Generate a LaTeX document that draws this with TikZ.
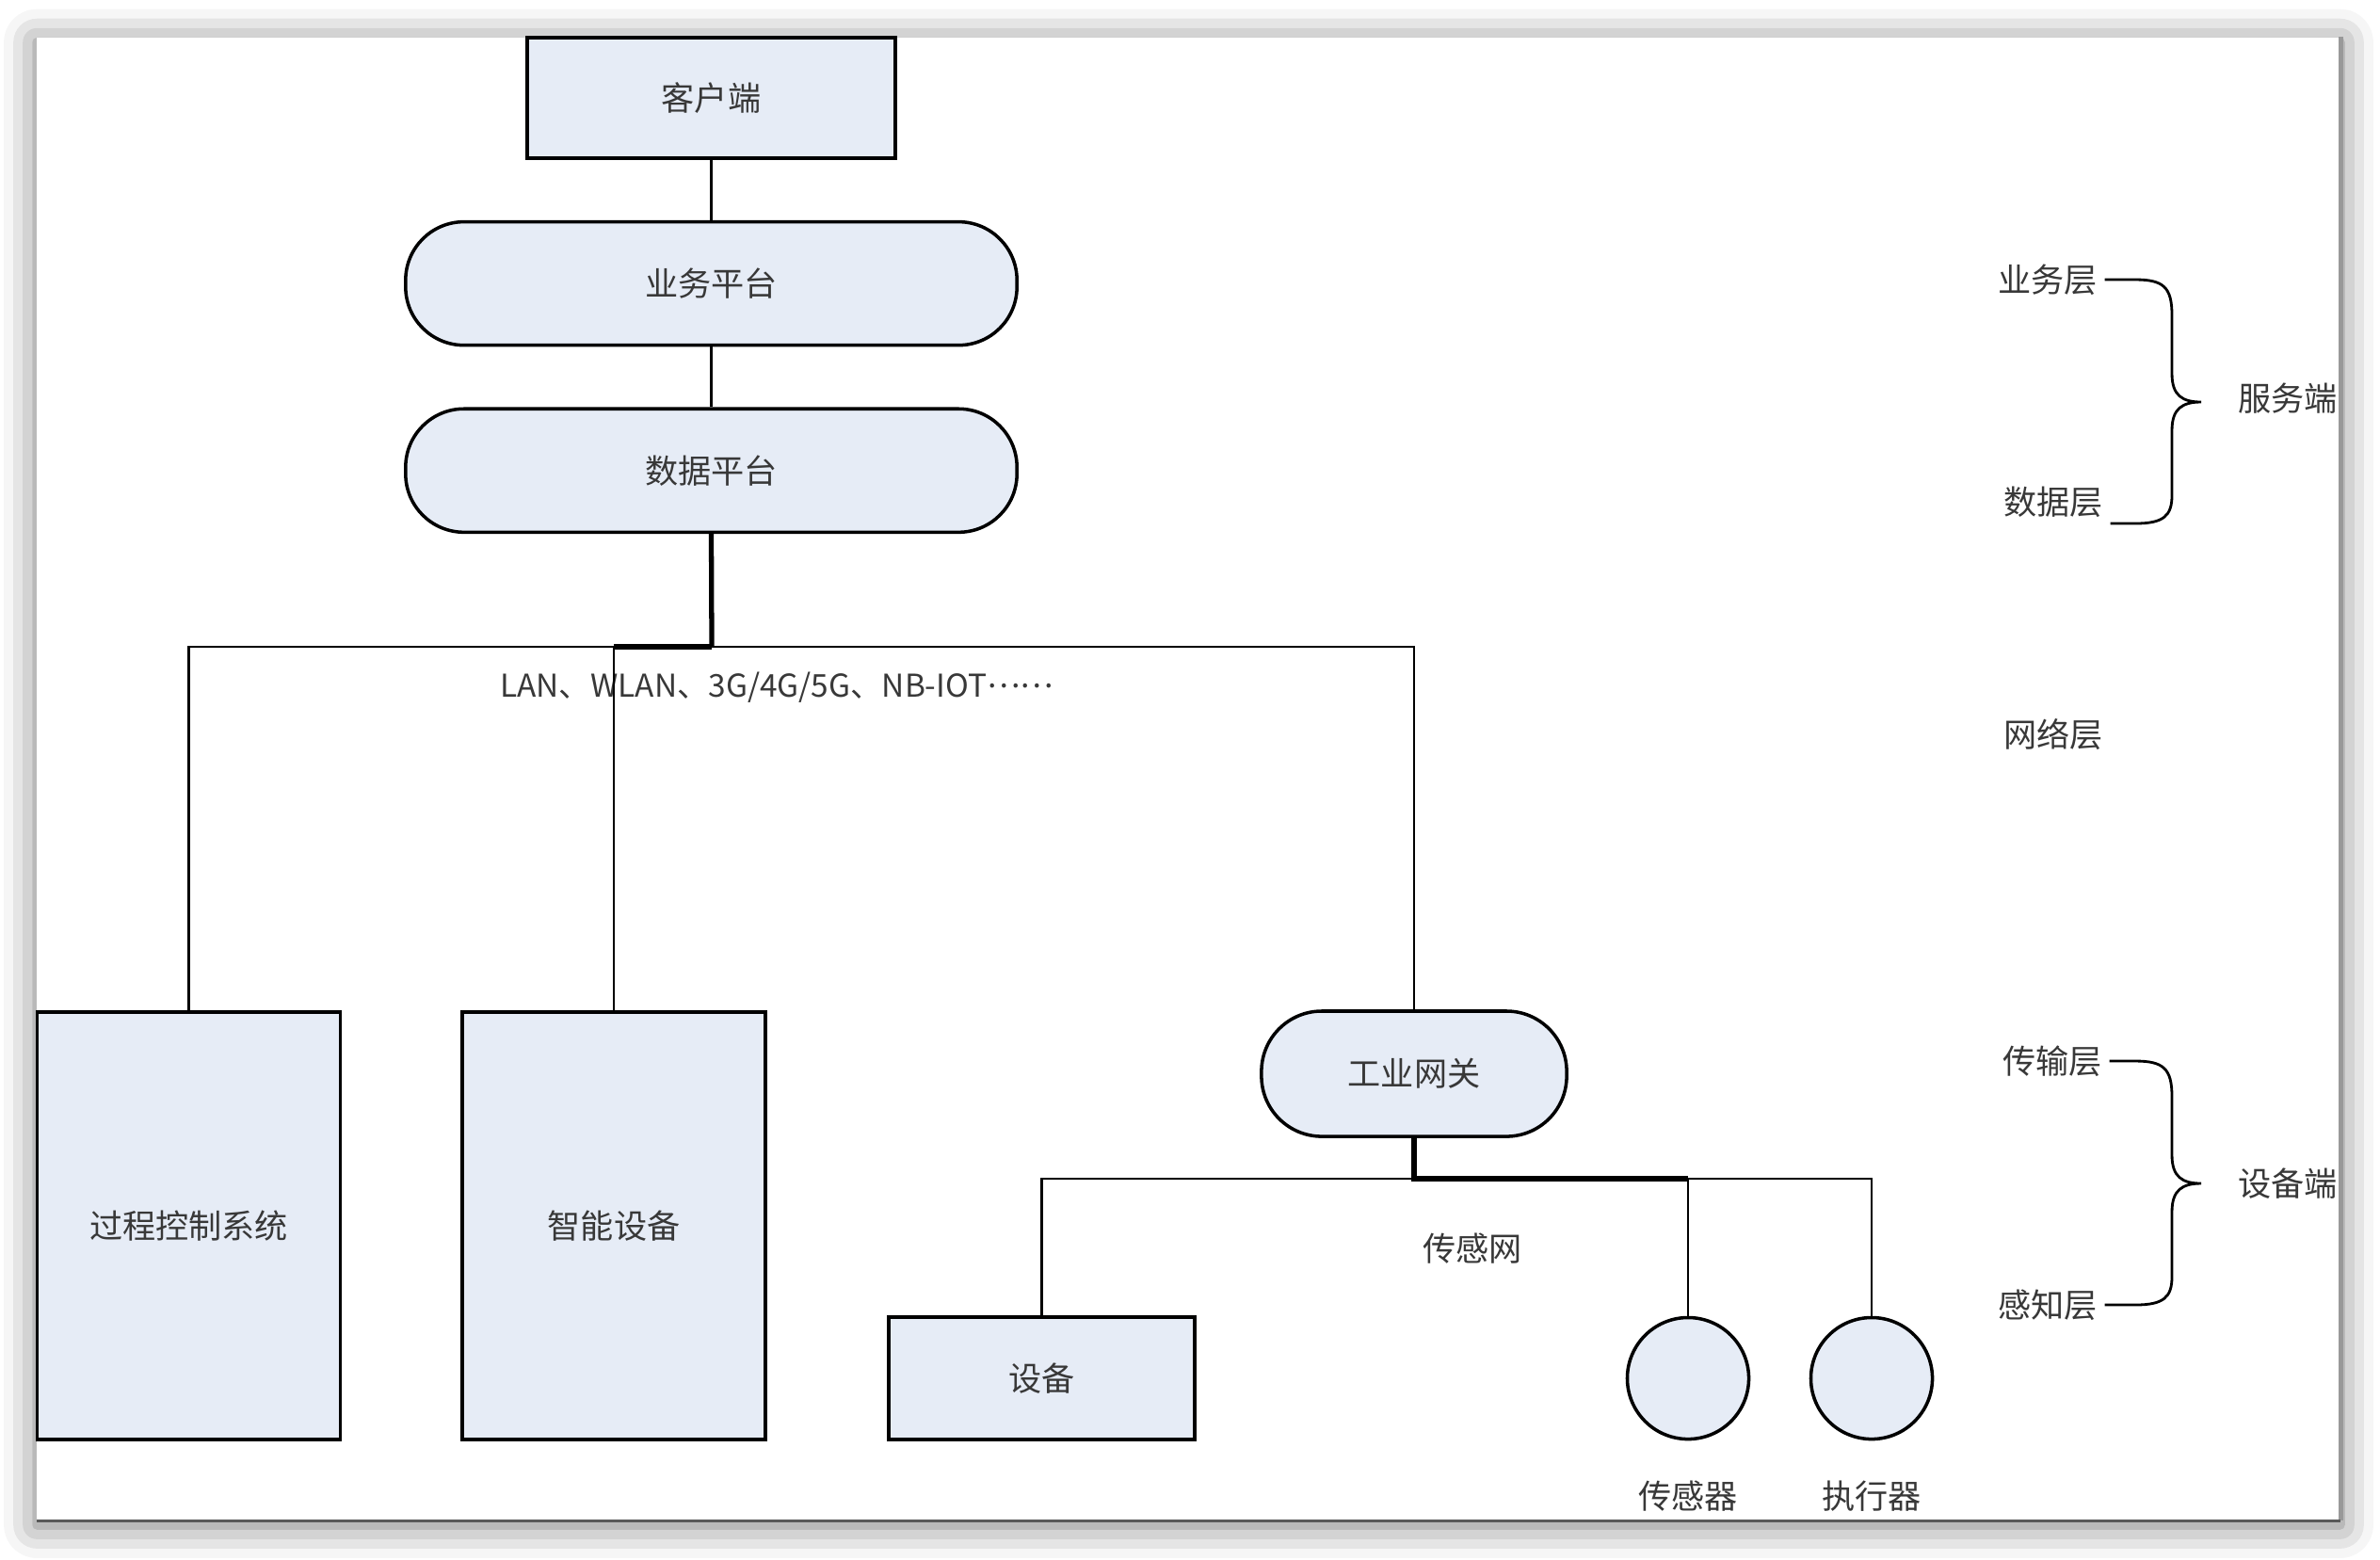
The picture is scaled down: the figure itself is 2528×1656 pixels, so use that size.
\documentclass[tikz,border=0pt]{standalone}
\usepackage{fontspec}
\setmainfont{Noto Sans CJK SC}
\usepackage{xcolor}
\usepackage{tikz}
\usetikzlibrary{positioning, shadows.blur}
\definecolor{boxfill}{RGB}{230,236,246}

\begin{document}
\begin{tikzpicture}[
  x=0.01cm, y=-0.01cm,
  node distance=0.64cm,
  page/.style={fill=white, inner sep=0pt, minimum width=24.45cm, minimum height=15.74cm,
    blur shadow={shadow xshift=0pt, shadow yshift=-1.5pt, shadow blur radius=10pt, shadow opacity=55}},
  box/.style={draw, fill=boxfill, line width=1pt, inner sep=0pt, align=center},
  plat/.style={box, rounded corners=0.62cm, minimum width=6.49cm, minimum height=1.31cm},
  tall/.style={box, minimum width=3.22cm, minimum height=4.54cm},
  dev/.style={box, circle, minimum size=1.29cm},
  lyr/.style={inner sep=2pt},
  wire/.style={line width=0.8pt},
  busw/.style={line width=1.5pt},
  brace/.style={line width=0.8pt},
  font=\fontsize{10pt}{12pt}\selectfont, text=black!78
]
\useasboundingbox (0,0) rectangle (2528,1656);
\node[page] (page) at (1262.5,827) {};
\draw[gray!80, line width=0.05cm] (page.north east) -- (page.south east);
\draw[black!65, line width=0.03cm] (page.south west) -- (page.south east);

\node[box, minimum width=3.91cm, minimum height=1.28cm] (client) at (755.5,104) {客户端};
\node[plat, below=of client] (bizplat) {业务平台};
\node[plat, below=of bizplat] (dataplat) {数据平台};
\node[tall] (pcs) at (200.5,1302) {过程控制系统};
\node[tall] (smartdev) at (652,1302) {智能设备};
\node[plat, minimum width=3.24cm, minimum height=1.33cm, rounded corners=0.64cm] (gateway) at (1502,1140.5) {工业网关};
\node[box, minimum width=3.25cm, minimum height=1.30cm] (device) at (1106.5,1464) {设备};
\node[dev] (sensor) at (1793,1464) {};
\node[dev] (actuator) at (1988,1464) {};
\node[below=0.3cm of sensor] (sensorlbl) {传感器};
\node[below=0.3cm of actuator] (actlbl) {执行器};

\coordinate (bus) at (756,687);
\coordinate (sbus) at (1502,1252);
\node (netlbl) at (825,730) {\fontsize{9.5pt}{11pt}\selectfont LAN、WLAN、3G/4G/5G、NB-IOT\raisebox{0.3em}{……}};
\node (sensnet) at (1564,1326) {传感网};

\draw[wire] (client) -- (bizplat);
\draw[wire] (bizplat) -- (dataplat);
\draw[busw] (dataplat.south) -- (bus);
\draw[wire] (pcs.north) -- (pcs.north |- bus) -- (gateway.north |- bus) -- (gateway.north);
\draw[busw] (smartdev.north |- bus) -- (bus);
\draw[wire] (smartdev.north) -- (smartdev.north |- bus);
\draw[wire] (device.north) -- (device.north |- sbus) -- (actuator.north |- sbus) -- (actuator.north);
\draw[busw] (gateway.south) -- (sbus) -- (sensor.north |- sbus);
\draw[wire] (sensor.north) -- (sensor.north |- sbus);

\node[lyr] (lyrbiz) at (2175,297) {业务层};
\node[lyr] (lyrdata) at (2181,533) {数据层};
\node[lyr] (lyrnet) at (2181,780) {网络层};
\node[lyr] (lyrtrans) at (2180,1127) {传输层};
\node[lyr] (lyrsense) at (2175,1386) {感知层};
\node[lyr] (srvside) at (2430,423) {服务端};
\node[lyr] (devside) at (2430,1257) {设备端};
\coordinate (srvtip) at (2338,427);
\coordinate (devtip) at (2338,1257);

\draw[brace] (lyrbiz.east) -- (2268,297) .. controls (2298,297) and (2307,305) .. (2307,335) -- (2307,397)
  .. controls (2307,420) and (2318,427) .. (srvtip) .. controls (2318,427) and (2307,434) .. (2307,457)
  -- (2307,526) .. controls (2307,548) and (2298,556) .. (2268,556) -- (lyrdata.east |- 0,556);
\draw[brace] (lyrtrans.east) -- (2268,1127) .. controls (2298,1127) and (2307,1135) .. (2307,1165) -- (2307,1227)
  .. controls (2307,1250) and (2318,1257) .. (devtip) .. controls (2318,1257) and (2307,1264) .. (2307,1287)
  -- (2307,1356) .. controls (2307,1378) and (2298,1386) .. (2268,1386) -- (lyrsense.east);
\end{tikzpicture}
\end{document}
